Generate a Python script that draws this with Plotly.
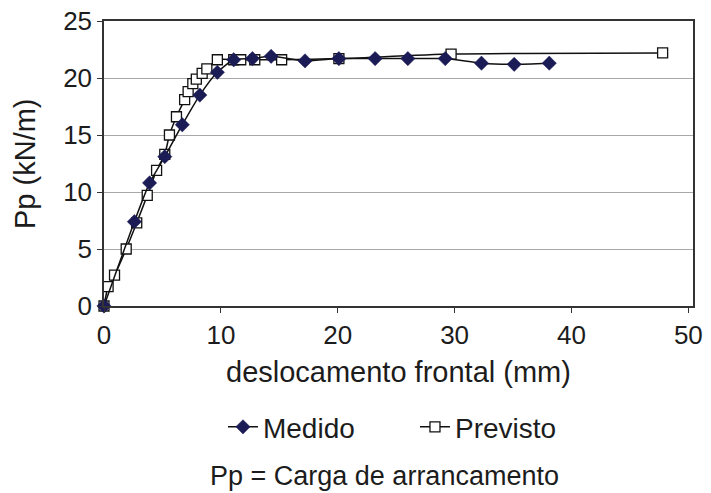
import plotly.graph_objects as go

# Medido (measured) series
medido_x = [0, 2.6, 3.9, 5.2, 6.7, 8.2, 9.7, 11.1, 12.7, 14.3, 17.2, 20.1, 23.2, 26.0, 29.2, 32.3, 35.1, 38.1]
medido_y = [0, 7.4, 10.8, 13.1, 15.9, 18.5, 20.5, 21.6, 21.7, 21.9, 21.5, 21.7, 21.7, 21.7, 21.7, 21.3, 21.2, 21.3]

# Previsto (predicted) series
previsto_x = [0, 0.35, 0.9, 1.9, 2.8, 3.7, 4.5, 5.2, 5.6, 6.2, 6.9, 7.2, 7.6, 7.9, 8.4, 8.8, 9.7,
              11.1, 11.7, 12.9, 15.2, 20.1, 29.7, 47.8]
previsto_y = [0, 1.7, 2.7, 5.0, 7.3, 9.7, 11.9, 13.3, 15.0, 16.6, 18.1, 18.8, 19.5, 19.9, 20.4, 20.8, 21.6,
              21.6, 21.6, 21.6, 21.6, 21.7, 22.1, 22.2]

x_ticks = [0, 10, 20, 30, 40, 50]
y_ticks = [0, 5, 10, 15, 20, 25]

FONT = "Liberation Sans, Arial, sans-serif"
TXT = "#1c1c1c"

fig = go.Figure()
fig.add_trace(go.Scatter(
    x=previsto_x, y=previsto_y, name="Previsto", mode="lines+markers", cliponaxis=False,
    line=dict(color="#111111", width=1.5, shape="spline", smoothing=0.6),
    marker=dict(symbol="square", size=10, color="white", line=dict(color="#111111", width=1.3)),
))
fig.add_trace(go.Scatter(
    x=medido_x, y=medido_y, name="Medido", mode="lines+markers", cliponaxis=False,
    line=dict(color="#111111", width=1.5, shape="spline", smoothing=0.6),
    marker=dict(symbol="diamond", size=11, color="#1b1b55", line=dict(color="#1b1b55", width=0.5)),
))

fig.update_layout(
    width=711, height=493,
    margin=dict(l=104, r=18, t=21, b=187, autoexpand=False),
    paper_bgcolor="white", plot_bgcolor="white",
    font=dict(family=FONT, color=TXT, size=26),
    showlegend=True,
    legend=dict(orientation="h", x=0.202, y=-0.425, xanchor="left", yanchor="middle",
                font=dict(size=28, family=FONT, color=TXT),
                entrywidth=147, entrywidthmode="pixels",
                bgcolor="rgba(0,0,0,0)", traceorder="reversed"),
)
fig.update_xaxes(
    range=[0, 50.4], tickvals=x_ticks, ticktext=[str(v) for v in x_ticks], automargin=False,
    showgrid=False, zeroline=False, showline=True, mirror=True,
    linecolor="#333333", linewidth=1.5, ticks="outside", ticklen=5, tickcolor="#333333",
    tickfont=dict(size=26, family=FONT, color=TXT),
)
fig.update_yaxes(
    range=[0, 25], tickvals=y_ticks, ticktext=[str(v) for v in y_ticks], automargin=False,
    showgrid=True, gridcolor="#a8a8a8", gridwidth=1, zeroline=False, showline=True, mirror=True,
    linecolor="#333333", linewidth=1.5, ticks="outside", ticklen=5, tickcolor="#333333",
    tickfont=dict(size=26, family=FONT, color=TXT),
)

fig.add_annotation(text="deslocamento frontal (mm)", xref="paper", yref="paper",
                   x=0.5, y=-0.232, xanchor="center", yanchor="middle", showarrow=False,
                   font=dict(size=29, family=FONT, color=TXT))
fig.add_annotation(text="Pp (kN/m)", xref="paper", yref="paper",
                   x=-0.135, y=0.5, xanchor="center", yanchor="middle", textangle=-90, showarrow=False,
                   font=dict(size=29, family=FONT, color=TXT))
fig.add_annotation(text="Pp = Carga de arrancamento", xref="paper", yref="paper",
                   x=0.477, y=-0.598, xanchor="center", yanchor="middle", showarrow=False,
                   font=dict(size=27, family=FONT, color=TXT))

fig.write_html("out.html")
